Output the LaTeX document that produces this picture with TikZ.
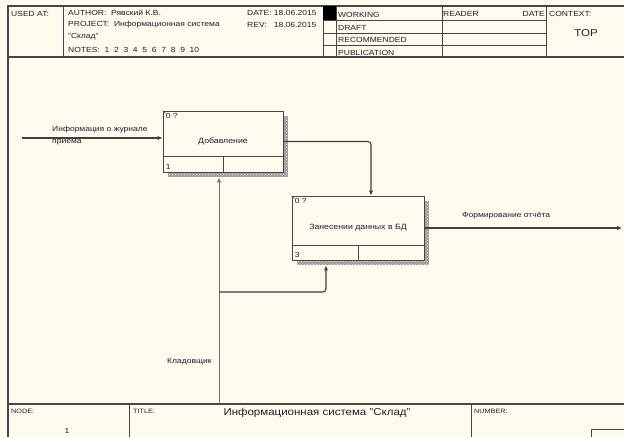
\documentclass[tikz,border=0pt]{standalone}
\usepackage{fontspec}
\setmainfont{Liberation Sans}[FakeStretch=1.15]
\usetikzlibrary{arrows.meta, positioning, patterns}
\definecolor{paper}{RGB}{255,250,238}
\definecolor{frameline}{RGB}{70,70,70}
\definecolor{inktext}{RGB}{30,30,45}
\tikzset{
  frame/.style={draw=frameline, line width=1.1pt},
  thinrule/.style={draw=frameline, line width=0.75pt},
  lbl/.style={anchor=west, inner sep=0pt, font=\fontsize{7.4}{8}\selectfont, text=inktext},
  tinylbl/.style={lbl, font=\fontsize{6.3}{7}\selectfont},
  actbox/.style={
    rectangle, draw=frameline, fill=paper, line width=0.9pt,
    inner sep=0pt, minimum width=#1,
    font=\fontsize{7.6}{9}\selectfont, text=inktext
  },
  boxshadow/.style={fill=black!40, postaction={pattern=crosshatch dots, pattern color=paper}},
  flowline/.style={draw=black!75, line width=1.1pt, rounded corners=3pt,
    -{Latex[length=5pt,width=4.5pt]}},
  lightflow/.style={flowline, draw=black!55, line width=0.9pt},
}

\begin{document}
\begin{tikzpicture}[x=1pt,y=-1pt]
  \useasboundingbox[fill=paper] (0,0) rectangle (624,437);
  % form frame
  \draw[frame] (624,6) -- (8,6) -- (8,437);
  \draw[frame] (8,57) -- (624,57);
  \draw[frame] (8,404) -- (624,404);
  \foreach \x in {63,323,336,442,546} \draw[thinrule] (\x,6) -- (\x,57);
  \foreach \y in {20,33,45} \draw[thinrule] (323,\y) -- (546,\y);
  \fill[black] (323,6) rectangle (336,20);
  \foreach \x in {129,471} \draw[thinrule] (\x,404) -- (\x,437);
  \draw[thinrule] (624,429) -- (591,429) -- (591,437);
  % header
  \node[lbl](usedat)  at(11,14)  {USED AT:};
  \node[lbl](author)  at(68,13)  {AUTHOR:\ \ Рявский К.В.};
  \node[lbl](project) at(68,25)  {PROJECT:\ \ Информационная система};
  \node[lbl](projcnt) at(68,37)  {"Склад"};
  \node[lbl](notes)   at(68,50)  {NOTES:\ \ 1\ \ 2\ \ 3\ \ 4\ \ 5\ \ 6\ \ 7\ \ 8\ \ 9\ \ 10};
  \node[lbl](date)    at(247,13) {DATE:\ 18.06.2015};
  \node[lbl](rev)     at(247,25) {REV:\ \ \ 18.06.2015};
  \node[lbl](working) at(338,15) {WORKING};
  \node[lbl](draft)   at(338,28) {DRAFT};
  \node[lbl](recomm)  at(338,40) {RECOMMENDED};
  \node[lbl](public)  at(338,53) {PUBLICATION};
  \node[lbl](reader)  at(443,14) {READER};
  \node[lbl,anchor=east](rdate) at(545,14) {DATE};
  \node[lbl](context) at(549,14) {CONTEXT:};
  \node[lbl,anchor=center,font=\fontsize{10}{12}\selectfont](top) at(586,33) {TOP};
  % footer
  \node[tinylbl](nodelbl)  at(11,411)  {NODE:};
  \node[lbl,anchor=center](nodenum) at(67,431) {1};
  \node[tinylbl](titlelbl) at(133,411) {TITLE:};
  \node[lbl,anchor=center,font=\fontsize{10}{12}\selectfont](title) at(317,413) {Информационная система "Склад"};
  \node[tinylbl](numlbl)   at(474,411) {NUMBER:};
  % activity boxes
  \fill[boxshadow] (168,116) rectangle (288,177);
  \fill[boxshadow] (297,201) rectangle (429,265);
  \node[actbox=120pt,minimum height=61pt](b1) at(223,141.5) {Добавление};
  \node[actbox=132pt,minimum height=64pt](b2) at(358,228)   {Занесении данных в БД};
  \draw[thinrule] ([yshift=16pt]b1.south west) -- ([yshift=16pt]b1.south east);
  \draw[thinrule] ([yshift=16pt]b1.south) -- (b1.south);
  \draw[thinrule] ([yshift=15pt]b2.south west) -- ([yshift=15pt]b2.south east);
  \draw[thinrule] ([yshift=15pt]b2.south) -- (b2.south);
  \draw[thinrule,line width=0.5pt] (b1.north west) -- ++(3,3);
  \draw[thinrule,line width=0.5pt] (b2.north west) -- ++(3,3);
  \node[lbl,anchor=north west](b1ref) at([shift={(3pt,-3pt)}]b1.north west) {0 ?};
  \node[lbl,anchor=north west](b2ref) at([shift={(3pt,-3pt)}]b2.north west) {0 ?};
  \node[lbl,anchor=south west](b1num) at([shift={(3pt,3pt)}]b1.south west) {1};
  \node[lbl,anchor=south west](b2num) at([shift={(3pt,3pt)}]b2.south west) {3};
  % arrows
  \coordinate (inL)   at (22,138);
  \coordinate (outR)  at (622,228);
  \coordinate (mechB) at (219,404);
  \coordinate (mechJ) at (219,292);
  \draw[flowline] (inL) -- (inL -| b1.west);
  \draw[flowline] (b1.east) -| ([xshift=13pt]b2.north);
  \draw[flowline] (b2.east) -- (outR);
  \draw[lightflow] (mechB) -- ([xshift=-4pt,yshift=-5pt]b1.south);
  \draw[flowline] (mechJ) -| ([xshift=-32pt,yshift=-5pt]b2.south);
  \node[lbl,align=left,font=\fontsize{7.4}{12}\selectfont](inlbl) at(52,136) {Информация о журнале\\приема};
  \node[lbl](outlbl)  at(462,216) {Формирование отчёта};
  \node[lbl](mechlbl) at(167,362) {Кладовщик};
\end{tikzpicture}
\end{document}
